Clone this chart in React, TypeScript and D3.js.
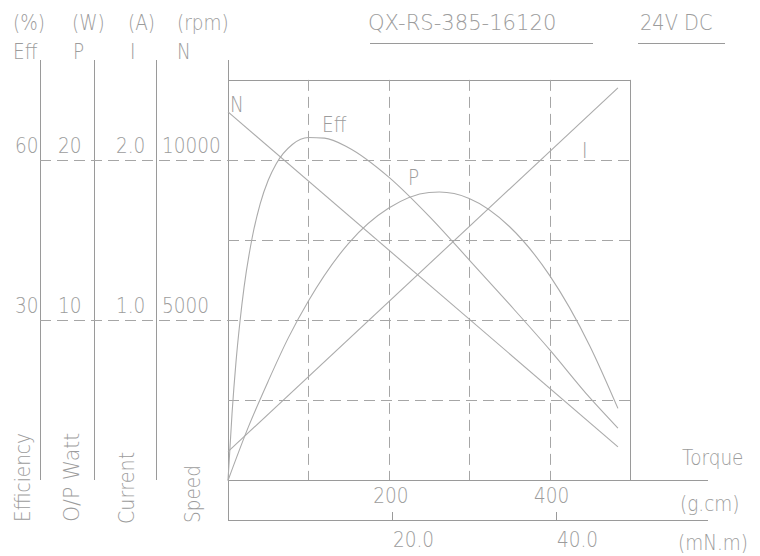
import React from "react";
import * as d3 from "d3";

// ---- data ----
const torqueTicksGcm = [200, 400];
const torqueTicksMNm = [20.0, 40.0];
const gridTorque = [100, 200, 300, 400];
const gridSpeed = [2500, 5000, 7500, 10000];
const longGridSpeed = [5000, 10000];
const effTicks = [30, 60];
const powerTicks = [10, 20];
const currentTicks = [1.0, 2.0];
const speedTicks = [5000, 10000];

const effTorque = [0, 5, 10, 15, 20, 30, 40, 50, 60, 80, 100, 120, 150, 200, 250, 300, 350, 400, 450, 485];
const effValues = [0, 12.5, 22.3, 29.9, 36.2, 45.4, 51.8, 56.2, 59.3, 62.9, 64.2, 64.1, 62.3, 56.8, 49.5, 41.3, 33.0, 24.5, 15.5, 9.8];

const powerTorque = [0, 25, 50, 75, 100, 150, 200, 250, 263, 300, 350, 400, 450, 485];
const powerValues = [0, 3.3, 6.2, 8.9, 11.2, 14.8, 17.0, 17.97, 18.0, 17.6, 15.85, 12.8, 8.4, 4.5];

const speedTorque = [0, 485];
const speedValues = [11500, 1050];

const currentTorque = [0, 485];
const currentValues = [0.18, 2.45];

const FONT = "'DejaVu Sans', sans-serif";
const TXT = "#9c9c9c";
const AX = "#9a9a9a";
const CURVE = "#ababab";
const GRID = "#a6a6a6";

const T = ({ x, y, sx = 0.84, rot = 0, anchor = "start", size = 22, children }: any) => (
  <text
    transform={`translate(${x},${y})${rot ? ` rotate(${rot})` : ""} scale(${sx},1)`}
    fill={TXT}
    fontFamily={FONT}
    fontWeight={200}
    fontSize={size}
    textAnchor={anchor}
  >
    {children}
  </text>
);

export default function App() {
  const x = d3.scaleLinear().domain([0, 500]).range([228, 630]);
  const xm = (v: number) => x(v / 0.0980665);
  const yN = d3.scaleLinear().domain([0, 10000]).range([480.5, 160]);
  const yE = d3.scaleLinear().domain([0, 60]).range([480.5, 160]);
  const yP = d3.scaleLinear().domain([0, 20]).range([480.5, 160]);
  const yI = d3.scaleLinear().domain([0, 2]).range([480.5, 160]);
  const yTop = yN(12500);
  const yBot = 480;

  const mk = (xs: number[], ys: number[], sy: any, smooth: boolean) => {
    const pts = xs.map((t, i) => [x(t), sy(ys[i])] as [number, number]);
    const g = d3.line();
    if (smooth) g.curve(d3.curveMonotoneX);
    return g(pts) || "";
  };

  const effPath = mk(effTorque, effValues, yE, true);
  const powPath = mk(powerTorque, powerValues, yP, true);
  const spdPath = mk(speedTorque, speedValues, yN, false);
  const curPath = mk(currentTorque, currentValues, yI, false);

  return (
    <svg width={760} height={556} style={{ position: "absolute", left: 0, top: 0, background: "#fff" }}>
      <rect x={0} y={0} width={760} height={556} fill="#fff" />
      {/* title */}
      <T x={368} y={30} sx={0.96}>QX-RS-385-16120</T>
      <line x1={370} x2={593} y1={43.5} y2={43.5} stroke={AX} />
      <T x={640} y={30} sx={0.88}>24V DC</T>
      <line x1={638} x2={725} y1={43.5} y2={43.5} stroke={AX} />

      {/* axis headers */}
      <T x={13} y={30}>(%)</T>
      <T x={13} y={59}>Eff</T>
      <T x={72} y={30}>(W)</T>
      <T x={73} y={59}>P</T>
      <T x={128} y={30}>(A)</T>
      <T x={130} y={59}>I</T>
      <T x={177} y={30}>(rpm)</T>
      <T x={177} y={59}>N</T>

      {/* vertical axis lines */}
      {[40, 94, 156].map((vx) => (
        <line key={vx} x1={vx + 0.5} x2={vx + 0.5} y1={60} y2={yBot} stroke={AX} />
      ))}
      <line x1={228.5} x2={228.5} y1={60} y2={520} stroke={AX} />

      {/* box */}
      <line x1={228} x2={630} y1={Math.round(yTop) + 0.5} y2={Math.round(yTop) + 0.5} stroke={AX} />
      <line x1={630.5} x2={630.5} y1={yTop} y2={yBot} stroke={AX} />
      <line x1={228} x2={708} y1={480.5} y2={480.5} stroke={AX} />
      <line x1={228} x2={708} y1={520.5} y2={520.5} stroke={AX} />

      {/* grid */}
      {gridTorque.map((t) => (
        <line key={"gv" + t} x1={Math.round(x(t)) + 0.5} x2={Math.round(x(t)) + 0.5} y1={yTop} y2={yBot} stroke={GRID} strokeDasharray="11,6" />
      ))}
      {gridSpeed.map((s) => (
        <line key={"gh" + s} x1={longGridSpeed.includes(s) ? 40 : 228} x2={630} y1={Math.round(yN(s)) + 0.5} y2={Math.round(yN(s)) + 0.5} stroke={GRID} strokeDasharray="11,6" />
      ))}

      {/* tick values */}
      {effTicks.map((v) => (<T key={"e" + v} x={15} y={yE(v) - 7}>{v}</T>))}
      {powerTicks.map((v) => (<T key={"p" + v} x={58} y={yP(v) - 7}>{v}</T>))}
      {currentTicks.map((v) => (<T key={"i" + v} x={116} y={yI(v) - 7}>{v.toFixed(1)}</T>))}
      {speedTicks.map((v) => (<T key={"n" + v} x={162} y={yN(v) - 7}>{v}</T>))}

      {/* rotated axis names */}
      <T x={30} y={522} rot={-90}>Efficiency</T>
      <T x={79} y={522} rot={-90} sx={0.93}>O/P Watt</T>
      <T x={134} y={524} rot={-90} sx={0.87}>Current</T>
      <T x={200} y={523} rot={-90}>Speed</T>

      {/* curves */}
      <path d={effPath} fill="none" stroke={CURVE} strokeWidth={1.1} />
      <path d={powPath} fill="none" stroke={CURVE} strokeWidth={1.1} />
      <path d={spdPath} fill="none" stroke={CURVE} strokeWidth={1.1} />
      <path d={curPath} fill="none" stroke={CURVE} strokeWidth={1.1} />

      <T x={230} y={112}>N</T>
      <T x={322} y={132}>Eff</T>
      <T x={408} y={185}>P</T>
      <T x={582} y={158}>I</T>

      {/* bottom axes */}
      {torqueTicksGcm.map((t) => (
        <T key={"tg" + t} x={x(t) + 2} y={503} anchor="middle">{t}</T>
      ))}
      {torqueTicksMNm.map((t) => (
        <g key={"tm" + t}>
          <line x1={Math.round(xm(t)) + 0.5} x2={Math.round(xm(t)) + 0.5} y1={512} y2={520} stroke={AX} />
          <T x={xm(t) + 1} y={547}>{t.toFixed(1)}</T>
        </g>
      ))}
      <T x={682} y={465}>Torque</T>
      <T x={680} y={511}>(g.cm)</T>
      <T x={678} y={550}>(mN.m)</T>
    </svg>
  );
}
